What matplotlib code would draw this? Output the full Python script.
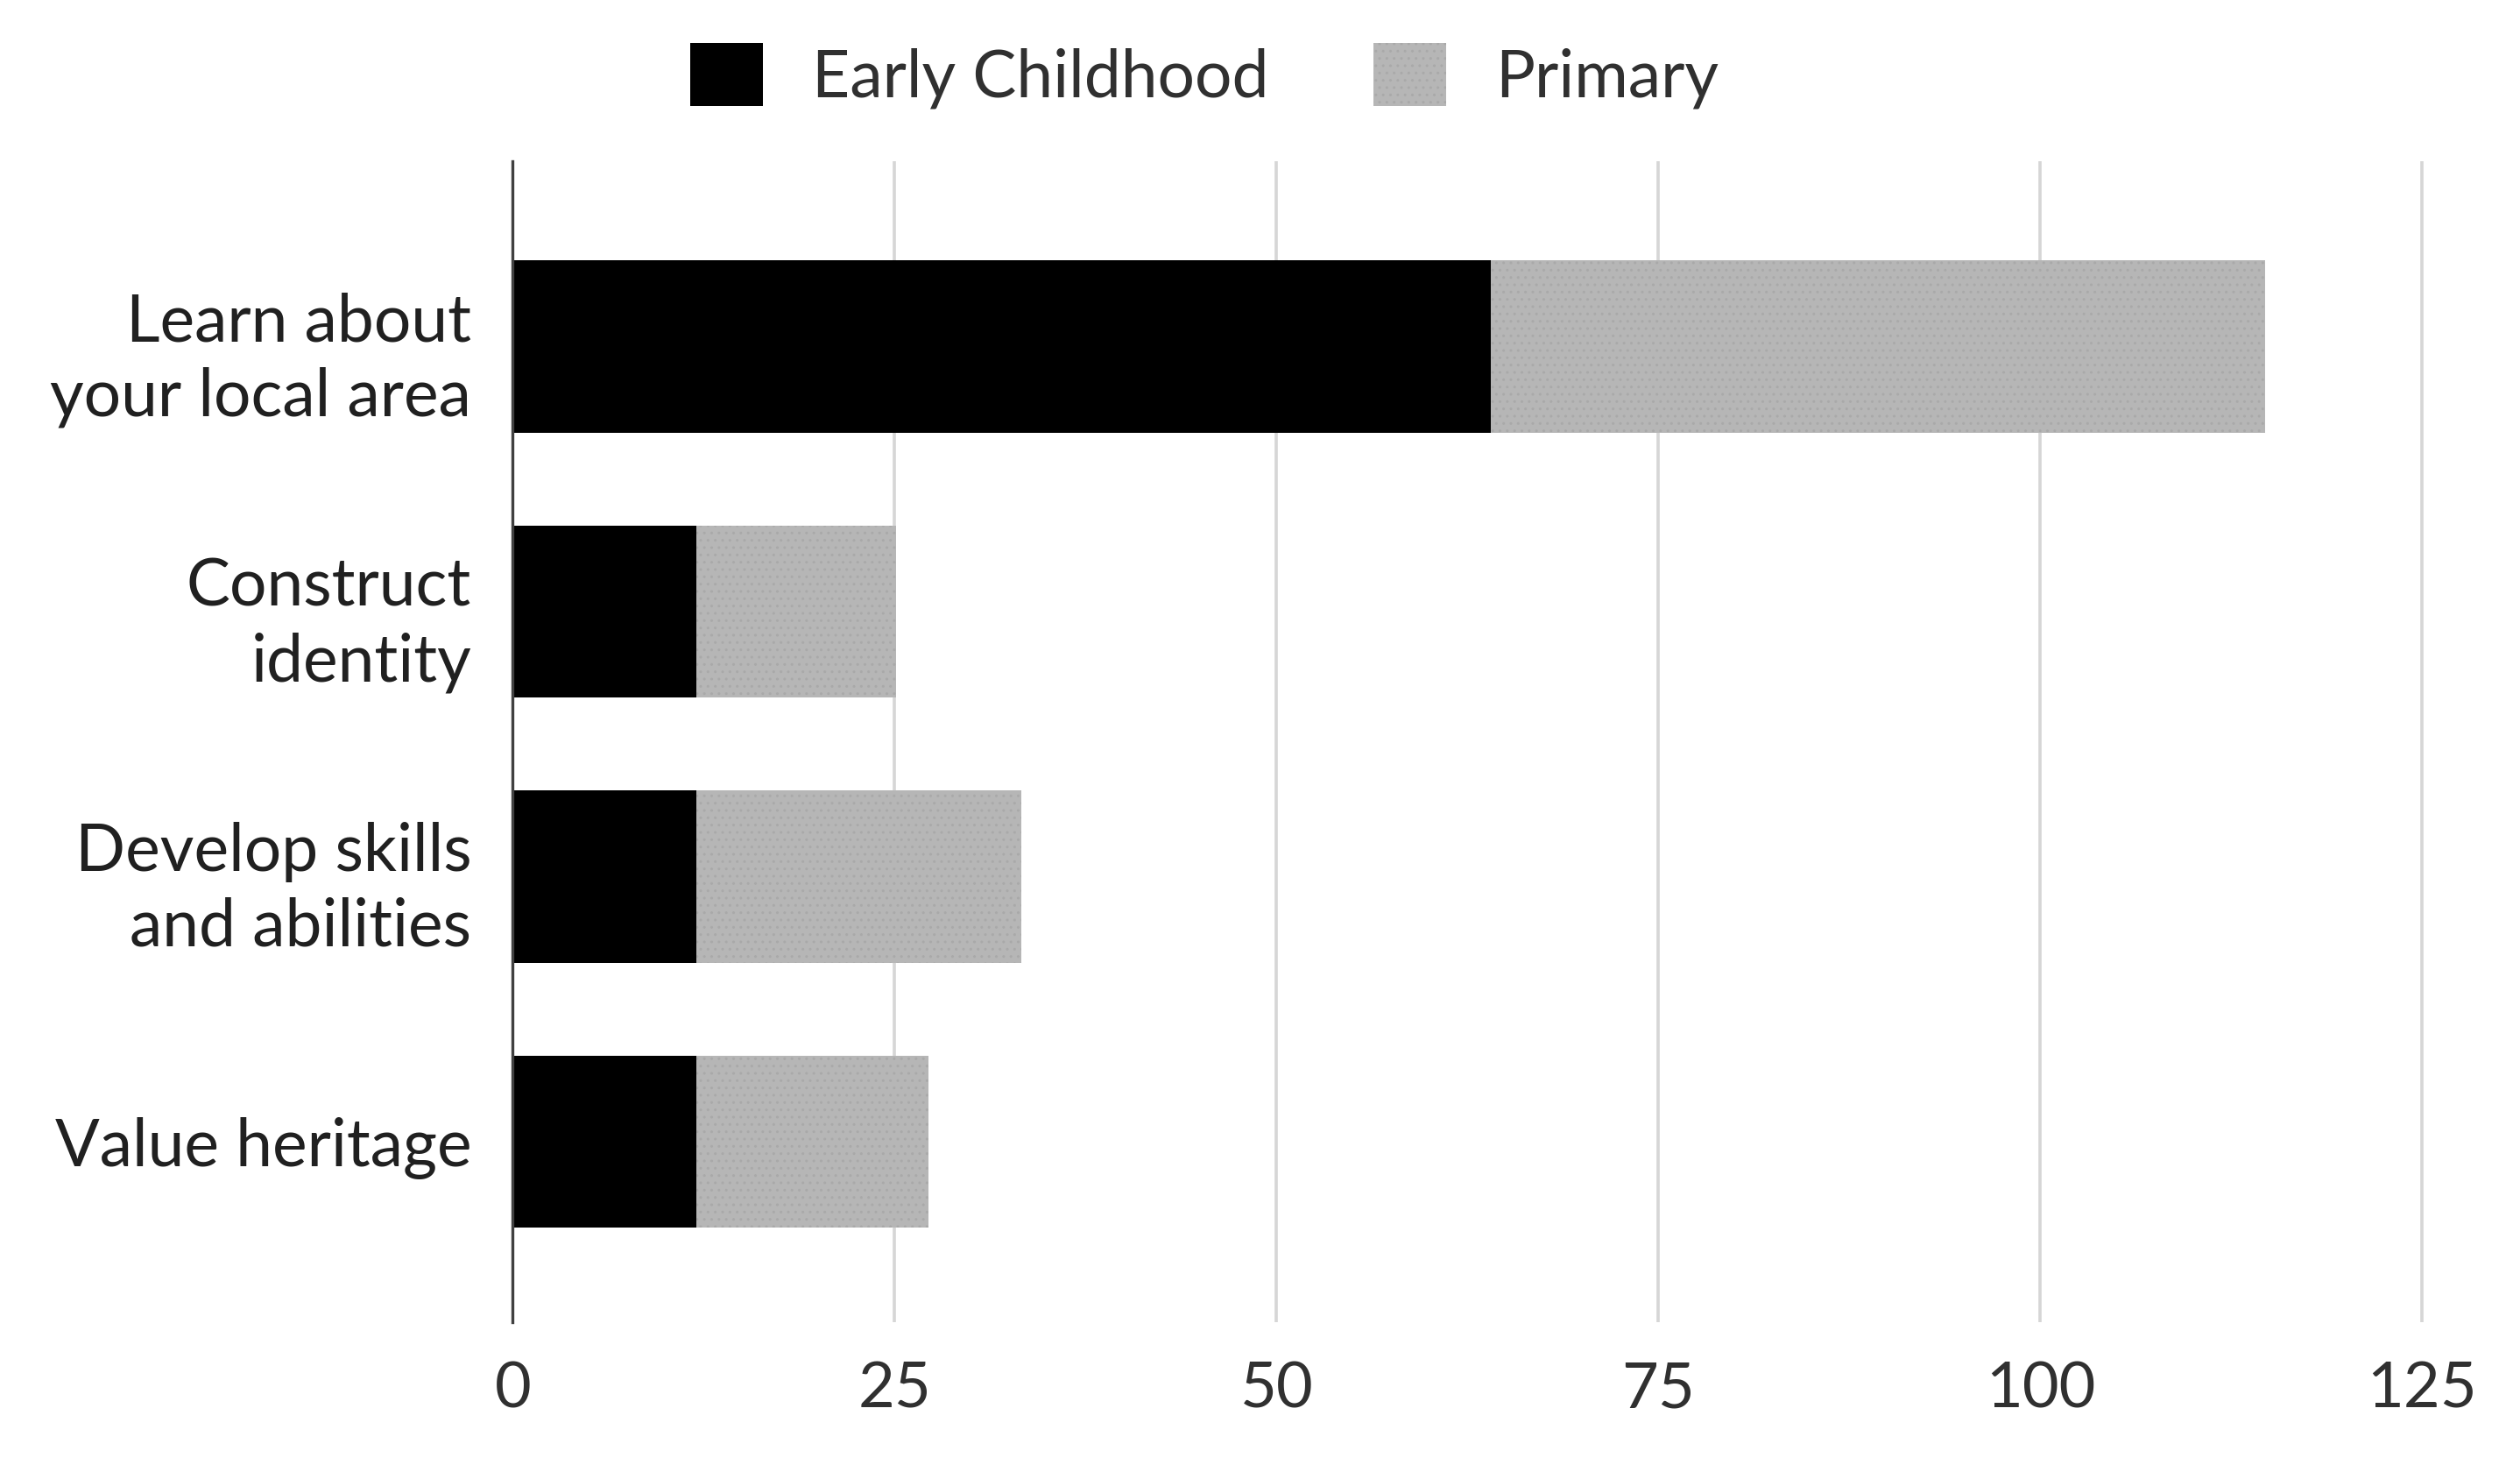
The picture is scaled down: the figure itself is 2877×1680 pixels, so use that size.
import matplotlib
matplotlib.use('Agg')
import matplotlib.pyplot as plt
import numpy as np

categories = ['Learn about\nyour local area', 'Construct\nidentity',
              'Develop skills\nand abilities', 'Value heritage']
early_childhood = [64, 12, 12, 12]
primary = [50.7, 13.1, 21.3, 15.2]
x_ticks = [0, 25, 50, 75, 100, 125]

plt.rcParams['font.family'] = ['Lato', 'DejaVu Sans']
plt.rcParams['hatch.linewidth'] = 0.5

fig = plt.figure(figsize=(14.385, 8.4), dpi=200)
ax = fig.add_axes([0.2035, 0.102, 0.7595, 0.7885])

y = np.arange(len(categories))
ax.barh(y, early_childhood, height=0.65, color='black', label='Early Childhood', zorder=3)
ax.barh(y, primary, left=early_childhood, height=0.65, color='#b6b6b6',
        hatch='....', edgecolor='#a9a9a9', linewidth=0, label='Primary', zorder=3)

ax.set_xlim(0, 125.3)
ax.set_ylim(3.68, -0.7)
ax.set_xticks(x_ticks)
ax.set_yticks(y)
ax.set_yticklabels(categories, fontsize=27, color='#202020', linespacing=1.3)
ax.tick_params(axis='x', labelsize=26, colors='#303030', length=0, pad=16)
ax.tick_params(axis='y', length=0, pad=17)
ax.grid(axis='x', color='#d6d6d6', linewidth=1.3, zorder=0)
for s in ['top', 'right', 'bottom']:
    ax.spines[s].set_visible(False)
ax.spines['left'].set_color('#404040')
ax.spines['left'].set_linewidth(1.2)
ax.spines['left'].set_zorder(4)

fig.legend(loc='center', bbox_to_anchor=(0.478, 0.9485), ncol=2, frameon=False,
           fontsize=27, handlelength=1.1, handleheight=1.1, columnspacing=1.6,
           handletextpad=0.75, labelcolor='#303030')

fig.savefig('out.png', dpi=200)
